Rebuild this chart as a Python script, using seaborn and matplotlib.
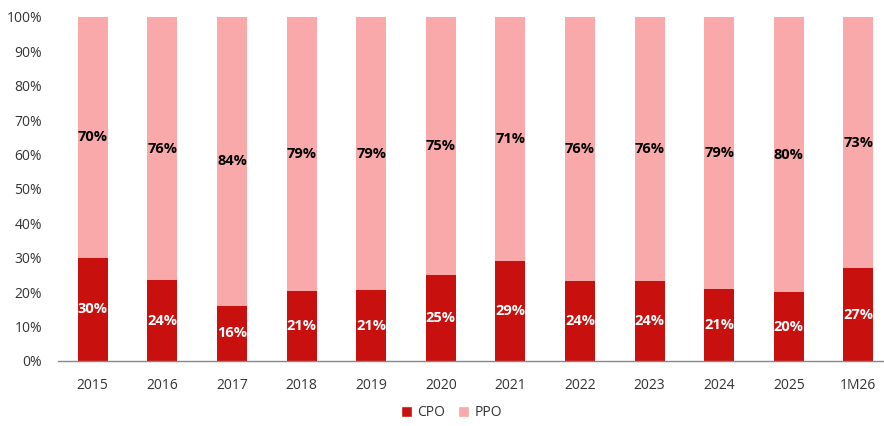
import numpy as np
import pandas as pd
import matplotlib
matplotlib.use("Agg")
import matplotlib.pyplot as plt
import seaborn as sns
from matplotlib.patches import Patch

years = ["2015", "2016", "2017", "2018", "2019", "2020", "2021", "2022", "2023", "2024", "2025", "1M26"]
cpo_share = [30.0, 23.5, 16.0, 20.4, 20.5, 25.0, 29.0, 23.4, 23.4, 21.0, 20.0, 27.0]
cpo_labels = ["30%", "24%", "16%", "21%", "21%", "25%", "29%", "24%", "24%", "21%", "20%", "27%"]
ppo_labels = ["70%", "76%", "84%", "79%", "79%", "75%", "71%", "76%", "76%", "79%", "80%", "73%"]

df = pd.DataFrame({"year": years, "CPO": cpo_share})
df["PPO"] = 100 - df["CPO"]
df["total"] = 100

sns.set_style("white")
plt.rcParams["font.family"] = ["Open Sans", "DejaVu Sans"]

red = "#C8100E"
pink = "#F9A9A9"
txt = "#333333"

fig = plt.figure(figsize=(8.84, 4.26), dpi=100)
ax = fig.add_axes([58 / 884, 65 / 426, (884 - 58) / 884, 344 / 426])

# stacked bars: full height in pink, CPO part in red on top
sns.barplot(data=df, x="year", y="total", color=pink, width=0.43, saturation=1,
            linewidth=0, edgecolor="none", ax=ax)
sns.barplot(data=df, x="year", y="CPO", color=red, width=0.43, saturation=1,
            linewidth=0, edgecolor="none", ax=ax)

for i, row in df.iterrows():
    ax.text(i, row["CPO"] / 2, cpo_labels[i], ha="center", va="center",
            color="white", fontsize=10.5, fontweight="bold")
    ax.text(i, row["CPO"] + row["PPO"] / 2, ppo_labels[i], ha="center", va="center",
            color="black", fontsize=10.5, fontweight="bold")

ax.set_yticks(np.arange(0, 101, 10))
ax.set_yticklabels([f"{v}%" for v in range(0, 101, 10)])
ax.set_xlabel("")
ax.set_ylabel("")

# ticks between categories on the x axis
ax.set_xticks(np.arange(len(years)))
ax.set_xticklabels(years)
ax.set_xticks(np.arange(len(years) + 1) - 0.5, minor=True)
ax.set_ylim(0, 100)
ax.set_xlim(-0.5, -0.5 + (884 - 58) / 69.6)
ax.tick_params(axis="x", which="major", length=0, pad=12, labelsize=10, labelcolor=txt)
ax.tick_params(axis="x", which="minor", length=5, width=1, color="#888888", direction="out")
ax.tick_params(axis="y", length=0, labelsize=10, labelcolor=txt, pad=11.5)

for s in ["top", "right", "left"]:
    ax.spines[s].set_visible(False)
ax.spines["bottom"].set_color("#888888")
ax.spines["bottom"].set_linewidth(1)

handles = [Patch(facecolor=red, label="CPO"), Patch(facecolor=pink, label="PPO")]
fig.legend(handles=handles, loc="center", bbox_to_anchor=(451.5 / 884, 1 - 413 / 426),
           ncol=2, frameon=False, fontsize=10, handlelength=0.8, handleheight=0.8,
           handletextpad=0.4, columnspacing=0.9, labelcolor=txt)

fig.savefig("out.png", dpi=100)
